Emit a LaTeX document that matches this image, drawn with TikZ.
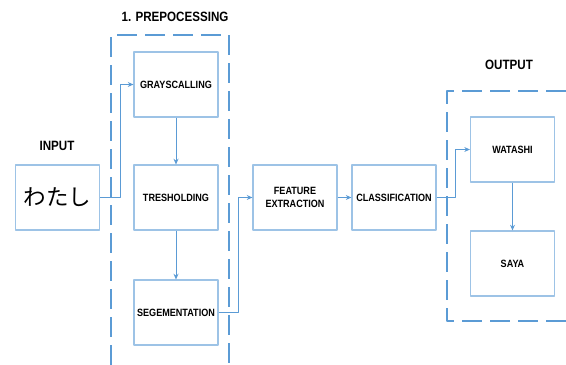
\documentclass[tikz,border=0pt]{standalone}
\usepackage{fontspec}
\setmainfont{Liberation Sans}[FakeStretch=0.86]
\newfontfamily\jpfont{Noto Sans CJK JP}
\usepackage{tikz}
\usetikzlibrary{arrows.meta,calc}
\usetikzlibrary{positioning}
\definecolor{boxblue}{RGB}{157,195,230}
\definecolor{lineblue}{RGB}{91,155,213}
\tikzset{stage/.style={draw=boxblue,line width=0.8pt,minimum width=2.1cm,minimum height=1.625cm,align=center,font=\bfseries\fontsize{7.5}{9}\selectfont,inner sep=1pt},
  frame/.style={draw=lineblue,line width=1.3pt,dash pattern=on 0.5cm off 0.2cm},
  link/.style={draw=lineblue,line width=0.5pt,-{Stealth[length=4pt,width=3.5pt]}},
  head/.style={font=\bfseries\fontsize{9.6}{12}\selectfont}}

\begin{document}
\begin{tikzpicture}[x=0.025cm,y=-0.025cm,line join=round]
\useasboundingbox (0,0) rectangle (566,365);
% --- dashed groups
\draw[frame] (111,365) -- (111,35) -- (229,35) -- (229,365);
\draw[frame] (566,91) -- (447,91) -- (447,321) -- (566,321);
\node[head] (tpre) at (175,17) {1. PREPOCESSING};
\node[head] (tin) at (57,146) {INPUT};
\node[head] (tout) at (509,65) {OUTPUT};
% --- boxes
\node[stage] (input) at (57.5,197.5) {\jpfont\mdseries\fontsize{16}{18}\selectfont わたし};
\node[stage] (gray) at (176,84.5) {GRAYSCALLING};
\node[stage] (tres) at (176,197.5) {TRESHOLDING};
\node[stage] (seg) at (176,312.5) {SEGEMENTATION};
\node[stage] (feat) at (295,197.5) {FEATURE\\EXTRACTION};
\node[stage] (cls) at (394,197.5) {CLASSIFICATION};
\node[stage] (wat) at (512.5,149.5) {WATASHI};
\node[stage] (saya) at (512.5,263.5) {SAYA};
% --- connectors
\draw[link] (input.east) -- ++(20,0) |- (gray.west);
\draw[link] (gray) -- (tres);
\draw[link] (tres) -- (seg);
\draw[link] (seg.east) -- ++(20,0) |- (feat.west);
\draw[link] (feat) -- (cls);
\draw[link] (cls.east) -- ++(19,0) |- (wat.west);
\draw[link] (wat) -- (saya);
\end{tikzpicture}
\end{document}
